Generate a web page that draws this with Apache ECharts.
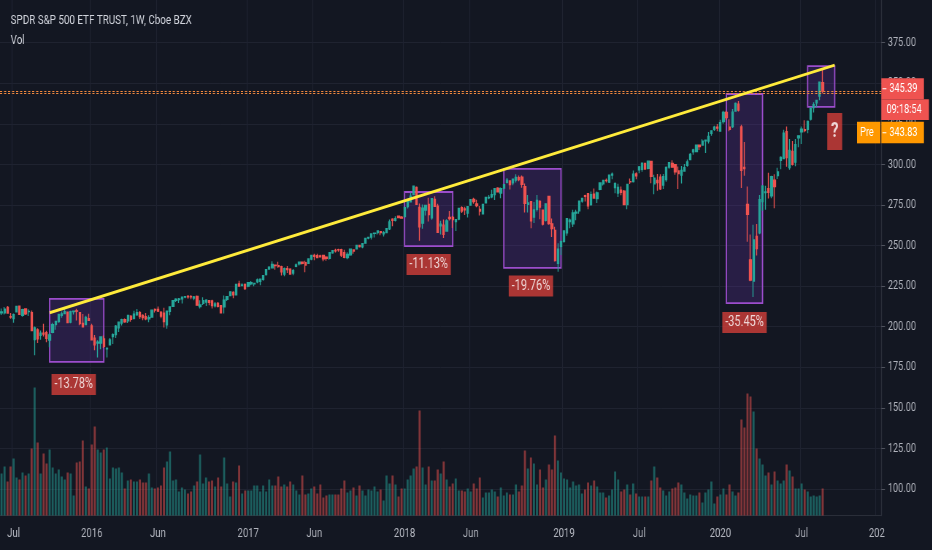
<!DOCTYPE html>
<html><head><meta charset="utf-8">
<script src="https://cdn.jsdelivr.net/npm/echarts@6/dist/echarts.min.js"></script>
<style>
html,body{margin:0;padding:0;background:#131722;width:932px;height:550px;overflow:hidden;}
#c{width:1277px;height:550px;transform:scaleX(0.73);transform-origin:0 0;}
</style>
</head><body><div id="c"></div><script>
const FONT = "Roboto, 'Noto Sans', sans-serif";

// weekly bars starting the week of 2015-06-08; axis runs 293 weeks
const firstWeek = '2015-06-08';
const axisWeeks = 293;

// [open, close, low, high]
const candles = [
[208.5,209.1,207.3,211.2],[208.5,210.8,207.6,212.1],[211.9,208.4,208.3,212.7],[206.2,206.0,204.9,208.5],[205.1,207.4,202.5,208.2],
[209.2,212.5,208.9,213.0],[212.7,207.6,207.4,212.8],[207.0,210.5,206.2,211.0],[210.9,207.9,207.3,211.2],[209.3,209.4,206.6,210.7],
[208.7,197.6,197.5,210.0],[192.1,199.3,182.4,200.2],[198.1,192.6,189.9,199.1],[194.7,196.0,192.0,197.6],[196.0,195.5,194.0,201.9],
[196.4,192.9,190.5,197.5],[191.8,195.0,187.3,196.0],[196.5,201.3,196.0,202.4],[201.4,203.3,198.2,203.5],[203.2,207.5,202.4,207.6],
[207.1,207.9,205.5,209.4],[208.1,209.3,207.8,211.0],[209.0,202.5,202.3,209.3],[202.8,209.3,202.2,209.9],[209.4,209.6,207.6,209.9],
[209.8,209.6,203.9,211.0],[208.7,201.9,200.9,209.0],[202.1,200.0,199.9,207.8],[201.4,205.7,201.0,206.7],[204.9,203.9,203.8,208.0],
[200.5,192.0,191.6,201.9],[193.0,188.8,185.5,194.9],[189.9,190.5,181.0,191.6],[189.9,193.7,186.1,194.0],[192.5,188.0,186.9,194.6],
[186.4,186.6,181.1,187.4],[188.8,191.9,188.4,193.0],[193.9,195.1,189.3,196.0],[195.1,200.4,193.0,201.1],[199.4,202.8,196.7,202.9],
[202.3,204.4,200.7,204.9],[204.3,203.1,202.5,205.0],[203.6,206.9,202.3,207.0],[206.5,204.5,203.1,207.0],[205.2,207.8,204.4,209.8],
[207.3,208.6,206.7,210.9],[208.6,206.3,204.8,209.7],[206.9,205.7,204.0,207.7],[206.2,204.8,204.0,208.5],[204.9,205.5,202.8,207.0],
[206.0,210.2,205.9,210.3],[210.6,210.3,208.7,211.3],[210.7,209.7,209.1,212.5],[209.0,206.5,205.2,209.5],[208.4,203.2,199.5,211.7],
[201.2,209.5,198.7,209.8],[209.5,212.2,207.1,212.5],[212.6,216.0,212.4,216.3],[216.2,217.0,215.2,217.5],[216.8,217.1,214.6,217.7],
[217.2,218.2,214.3,218.3],[218.3,218.5,217.5,219.0],[218.6,218.5,217.3,219.5],[218.5,218.4,216.9,219.6],[217.6,218.4,216.3,218.9],
[218.7,213.3,213.2,219.2],[212.4,213.4,211.2,216.3],[214.4,216.0,213.4,218.2],[215.2,216.3,212.8,217.0],[216.1,215.0,213.2,216.5],
[215.9,213.1,211.2,216.6],[212.9,214.0,211.9,215.2],[214.3,212.5,211.9,215.3],[213.0,208.6,208.4,213.1],[212.3,216.4,208.1,219.3],
[216.9,218.5,215.8,218.6],[219.2,221.5,219.1,221.6],[221.2,219.7,217.5,221.8],[219.7,226.0,219.5,226.1],[226.4,225.0,224.7,228.3],
[225.3,225.7,224.9,226.8],[226.0,223.5,222.7,226.7],[225.0,227.2,224.3,227.4],[226.5,227.1,225.6,228.1],[226.4,226.7,225.0,227.1],
[227.6,228.9,226.8,229.7],[228.0,229.3,225.5,229.4],[229.2,231.5,228.3,231.9],[232.1,235.1,231.6,235.2],[235.5,236.7,235.1,237.3],
[236.3,238.4,235.8,240.3],[237.9,237.7,235.1,238.4],[237.6,237.0,236.3,240.0],[237.0,233.9,231.6,237.6],[232.4,235.7,231.1,236.5],
[235.8,235.2,233.1,237.4],[235.4,232.5,232.4,236.0],[233.1,234.6,231.7,235.5],[237.2,238.1,236.7,239.0],[238.7,239.7,237.8,239.8],
[239.8,239.0,238.4,240.2],[239.5,238.0,233.6,240.7],[239.0,241.7,238.8,241.9],[241.7,243.9,240.9,244.4],[243.9,243.4,240.9,245.0],
[243.7,242.6,242.2,245.0],[243.6,243.1,242.6,244.4],[243.9,241.8,240.3,244.4],[242.9,242.1,240.7,243.4],[242.1,245.6,241.2,246.1],
[245.6,246.9,245.0,247.0],[247.0,246.8,245.8,248.0],[247.5,247.4,246.2,248.0],[247.5,244.1,242.9,248.0],[245.6,242.7,242.2,247.4],
[242.6,244.6,241.5,245.9],[244.3,247.8,243.7,247.9],[247.3,246.6,244.9,247.5],[248.0,250.1,247.9,250.3],[250.1,249.4,248.8,250.4],
[249.3,251.2,248.3,251.3],[251.5,254.4,251.3,254.7],[254.6,255.0,253.9,255.3],[255.2,257.1,253.7,257.3],[257.5,257.7,255.0,257.9],
[258.0,259.0,256.9,259.4],[258.6,258.0,256.4,259.0],[257.3,257.9,255.6,259.0],[258.0,260.4,257.9,260.5],[260.4,264.5,259.6,266.1],
[266.3,265.5,261.9,266.8],[265.6,266.5,264.9,268.0],[268.1,267.2,267.0,268.6],[267.5,266.9,266.6,268.2],[267.8,273.4,267.4,274.0],
[274.0,278.0,272.9,278.1],[277.0,280.4,276.6,282.6],[281.4,286.6,281.0,286.7],[285.9,275.4,275.3,286.4],[273.5,261.5,252.9,275.9],
[263.8,273.1,260.3,275.3],[271.9,274.7,268.6,275.2],[275.4,269.1,264.8,279.5],[267.1,278.9,265.9,279.0],[278.4,274.2,274.1,280.4],
[274.2,258.1,257.8,275.7],[262.1,263.2,256.9,265.3],[262.6,257.0,254.7,266.0],[259.0,265.2,258.7,266.2],[267.3,266.6,265.4,271.3],
[267.3,266.0,260.9,268.3],[264.8,266.0,259.0,266.4],[266.4,272.9,265.6,273.0],[273.3,271.3,270.0,274.2],[272.6,272.1,268.9,274.0],
[270.0,274.0,267.3,274.1],[274.9,278.2,274.5,278.6],[278.5,277.1,275.8,279.5],[275.6,274.7,273.6,278.3],[272.2,271.3,268.5,274.4],
[269.5,275.4,269.3,275.5],[276.3,279.6,276.1,280.0],[279.4,279.7,278.6,281.2],[280.1,281.4,279.2,284.4],[281.5,285.0,278.1,285.1],
[285.4,283.2,282.9,286.0],[282.4,285.1,279.2,285.8],[285.5,287.5,284.8,287.7],[289.0,290.3,288.2,291.7],[289.8,287.6,284.5,290.0],
[288.7,290.9,287.2,291.3],[290.3,292.0,288.9,293.9],[291.9,290.7,289.6,293.2],[292.1,287.8,285.6,293.2],[286.3,276.0,270.4,288.3],
[275.5,276.3,270.4,281.2],[277.0,265.3,260.6,277.4],[267.5,271.9,263.9,276.9],[272.4,277.8,271.0,281.2],[277.2,273.7,266.2,278.0],
[271.8,263.2,262.3,272.0],[265.5,275.7,264.9,275.8],[280.3,263.6,262.9,280.4],[263.4,260.5,255.3,266.7],[259.4,240.7,240.2,261.6],
[239.0,247.8,233.8,251.4],[249.6,252.4,244.2,253.1],[252.7,259.0,251.7,259.2],[257.8,266.5,256.1,266.7],[264.8,265.7,260.7,266.7],
[263.4,270.1,261.5,272.0],[270.1,270.5,265.6,272.0],[271.4,277.4,269.6,277.5],[277.5,279.1,276.4,279.4],[280.7,280.4,277.1,281.3],
[282.0,274.5,272.4,282.4],[275.2,281.3,274.6,283.3],[281.6,279.3,279.2,285.1],[278.9,282.5,276.2,283.3],[284.7,288.6,284.1,289.0],
[288.1,290.2,287.0,290.5],[290.2,290.0,288.8,291.4],[289.2,293.4,288.6,293.5],[293.5,294.0,290.9,295.0],[285.8,288.1,282.3,289.0],
[282.4,285.8,279.9,288.1],[284.1,282.8,281.0,286.4],[283.5,275.3,275.2,284.2],[275.3,287.6,272.4,287.9],[289.4,289.3,287.9,291.4],
[289.5,294.0,288.8,296.3],[294.2,293.0,290.9,295.2],[296.7,298.5,294.6,299.0],[297.0,300.7,295.5,301.1],[300.6,297.2,296.7,301.1],
[297.6,302.0,296.9,302.2],[301.9,292.6,288.4,302.2],[288.1,291.6,281.7,293.6],[290.2,288.9,283.8,294.1],[292.2,284.9,284.3,294.0],
[287.3,292.5,284.8,294.1],[290.6,298.1,289.3,298.8],[298.4,301.1,297.4,301.2],[300.6,298.3,298.2,302.6],[299.8,295.4,293.6,299.9],
[296.0,294.4,284.8,298.7],[293.5,296.3,288.2,299.0],[295.9,298.0,295.6,300.2],[299.4,301.6,298.6,303.0],[303.0,306.1,302.5,307.0],
[307.8,309.0,306.0,309.7],[308.0,311.8,307.8,312.0],[311.9,311.0,308.9,312.0],[312.0,314.3,311.8,315.5],[314.6,314.9,307.1,315.3],
[314.4,317.3,312.9,320.0],[319.1,320.7,317.6,320.9],[321.6,322.9,320.6,323.8],[322.9,322.4,320.4,324.9],[320.5,325.7,320.4,327.5],
[326.4,332.0,325.1,333.0],[332.0,328.8,327.4,333.0],[323.0,321.7,320.5,327.9],[323.4,332.2,322.5,334.2],[332.9,337.6,332.9,338.1],
[337.1,333.5,332.6,339.1],[323.1,296.3,285.5,324.4],[298.2,297.5,293.1,313.8],[275.3,269.3,252.4,286.4],[241.2,228.8,228.0,256.9],
[228.2,253.4,218.3,262.8],[255.7,248.2,243.9,263.3],[257.8,278.2,257.0,281.2],[277.1,286.6,271.4,287.3],[282.6,283.0,272.0,286.8],
[285.1,282.8,279.0,294.9],[280.7,292.4,279.1,293.0],[290.3,286.3,273.0,294.0],[293.1,295.4,291.0,297.9],[302.5,304.3,297.1,305.0],
[303.6,319.3,303.2,321.3],[320.2,304.2,298.6,323.4],[298.0,308.6,296.7,315.6],[308.0,300.1,299.4,314.5],[301.4,312.2,298.9,315.7],
[316.4,317.6,310.6,318.0],[320.1,321.7,312.6,323.4],[321.4,320.9,319.8,327.2],[321.6,326.5,319.2,327.0],[327.9,334.6,327.0,334.9],
[335.1,336.8,332.0,338.3],[337.9,339.5,335.2,339.7],[342.1,350.6,339.5,350.7],[350.35,345.39,343.8,358.75]
];

// weekly volume, millions of shares
const volumes = [
420,490,340,490,570,380,360,430,400,420, 670,1280,730,420,620,520,660,480,420,460,
390,360,430,420,200,530,540,750,290,270, 710,890,660,630,660,680,370,480,470,480,
430,270,350,360,340,340,360,330,330,420, 280,270,280,300,480,540,640,350,360,240,
280,260,220,240,300,340,610,320,380,340, 350,290,380,290,580,320,190,340,330,500,
220,250,250,250,300,300,240,300,240,360, 300,300,390,290,310,290,340,310,250,210,
400,210,220,270,290,220,310,180,200,210, 210,210,210,270,350,230,250,280,200,300,
250,200,260,250,290,240,260,150,400,320, 400,310,190,270,270,360,400,470,490,1050,
480,310,490,350,350,460,420,540,360,290, 320,370,250,250,240,270,240,320,270,380,
180,230,230,260,240,190,280,200,230,210, 210,310,240,300,650,470,580,520,310,460,
280,360,510,460,800,550,430,370,360,280, 340,300,310,220,260,330,300,350,290,230,
230,180,200,260,440,360,240,260,310,210, 320,220,190,190,190,190,350,490,380,280,
250,200,240,270,280,330,310,230,170,210, 200,200,230,130,230,260,340,120,190,210,
270,210,310,240,200,230,960,880,1220,1190, 1040,670,570,510,400,430,310,440,350,320,
350,510,450,390,270,270,320,260,240,190, 200,190,200,270
];

// bottom time-axis ticks (week starting date -> text)
const tickDates = ['2015-07-06','2016-01-04','2016-06-06','2017-01-02','2017-06-05','2018-01-01','2018-06-04','2019-01-07','2019-07-01','2020-01-06','2020-07-13','2021-01-04'];
const tickTexts = ['Jul','2016','Jun','2017','Jun','2018','Jun','2019','Jul','2020','Jul','202'];

// drawdown rectangles
const boxFrom   = ['2015-09-28','2018-01-01','2018-08-20','2020-01-20','2020-07-27'];
const boxTo     = ['2016-02-01','2018-04-23','2018-12-31','2020-04-13','2020-09-28'];
const boxTop    = [217.1, 283.0, 297.2, 343.4, 360.6];
const boxBottom = [178.3, 249.7, 236.2, 214.6, 335.4];

// drawdown labels
const noteDates  = ['2015-11-23','2018-02-26','2018-10-22','2020-03-02','2020-09-28'];
const notePrices = [164.4, 238.3, 225.1, 202.6, 320.3];
const noteTexts  = ['-13.78%','-11.13%','-19.76%','-35.45%','?'];

// trend line
const trendStart = ['2015-09-28', 208.6];
const trendEnd   = ['2020-09-28', 361.2];

const lastPrice = 345.39;
const prePrice = 343.83;
const countdown = '09:18:54';

// ---------------------------------------------------------------
const cats = [];
const t0 = Date.parse(firstWeek + 'T00:00:00Z');
for (let i = 0; i < axisWeeks; i++) cats.push(new Date(t0 + i * 7 * 86400000).toISOString().slice(0, 10));

const UP = '#26a69a', DOWN = '#ef5350';
const AXT = '#b2b5be', GRIDC = '#1f2330', BORDER = '#2a2e39';
const W = 1277;          // drawing width (page squeezes it horizontally to 932)
const GR = 69.7;         // right gutter for the price scale
const VW = 1.37;         // vertical stroke compensation

const chart = echarts.init(document.getElementById('c'), null, {renderer: 'canvas', width: W, height: 550});

const option = {
  backgroundColor: '#131722',
  animation: false,
  textStyle: {fontFamily: FONT},
  title: {
    text: 'SPDR S&P 500 ETF TRUST, 1W, Cboe BZX',
    subtext: 'Vol',
    left: 9.6, top: 9, itemGap: 6,
    textStyle: {color: '#d1d4dc', fontSize: 13.5, fontWeight: 'normal', fontFamily: FONT},
    subtextStyle: {color: '#d1d4dc', fontSize: 13.5, fontFamily: FONT}
  },
  grid: [
    {left: 0, right: GR, top: 2.13, bottom: 20.4, outerBoundsMode: 'none'},
    {left: 0, right: GR, top: 0, bottom: 34.5, outerBoundsMode: 'none'}
  ],
  xAxis: [
    {type: 'category', gridIndex: 0, data: cats, boundaryGap: true, show: false},
    {type: 'category', gridIndex: 1, data: cats, boundaryGap: true,
     axisLine: {show: true, lineStyle: {color: BORDER}},
     axisTick: {show: false},
     axisLabel: {
       color: AXT, fontSize: 13, margin: 12, fontFamily: FONT,
       interval: (i, v) => tickDates.indexOf(v) >= 0,
       formatter: v => { const k = tickDates.indexOf(v); return k >= 0 ? tickTexts[k] : ''; }
     },
     splitLine: {show: true, interval: (i, v) => tickDates.indexOf(v) >= 0, lineStyle: {color: GRIDC, width: VW}}
    }
  ],
  yAxis: [
    {type: 'value', gridIndex: 0, position: 'right', min: 75, max: 400, interval: 25,
     axisLine: {show: false},
     axisTick: {show: true, length: 5, lineStyle: {color: '#50535e'}},
     axisLabel: {color: AXT, fontSize: 12.5, margin: 9, fontFamily: FONT, showMinLabel: false, showMaxLabel: false,
                 formatter: v => v.toFixed(2)},
     splitLine: {show: true, showMinLine: false, showMaxLine: false, lineStyle: {color: GRIDC, width: 1}}
    },
    {type: 'value', gridIndex: 1, position: 'right', min: 0, max: 5155,
     axisLine: {show: true, lineStyle: {color: BORDER, width: VW}},
     axisTick: {show: false}, axisLabel: {show: false}, splitLine: {show: false}
    }
  ],
  series: [
    {
      name: 'Vol', type: 'bar', xAxisIndex: 1, yAxisIndex: 1, barWidth: '70%', z: 1,
      data: volumes.map((v, i) => ({
        value: v,
        itemStyle: {color: candles[i][1] >= candles[i][0] ? 'rgba(38,166,154,0.5)' : 'rgba(239,83,80,0.5)'}
      }))
    },
    {
      name: 'SPY', type: 'candlestick', xAxisIndex: 0, yAxisIndex: 0, barWidth: '66%', z: 3,
      itemStyle: {color: UP, color0: DOWN, borderColor: UP, borderColor0: DOWN, borderWidth: VW},
      data: candles,
      markArea: {
        silent: true,
        itemStyle: {color: 'rgba(110,55,185,0.24)', borderColor: '#9c4dcc', borderWidth: 1.8},
        data: boxFrom.map((d, i) => [{xAxis: d, yAxis: boxTop[i]}, {xAxis: boxTo[i], yAxis: boxBottom[i]}])
      },
      markLine: {
        silent: true, symbol: 'none', label: {show: false},
        lineStyle: {color: '#f0883e', type: [3, 2.5], width: 1.2, opacity: 1},
        data: [
          {yAxis: prePrice},
          {yAxis: lastPrice},
          [{coord: trendStart, lineStyle: {color: '#ffeb3b', width: 3, type: 'solid'}}, {coord: trendEnd}]
        ]
      }
    },
    {
      name: 'notes', type: 'scatter', xAxisIndex: 0, yAxisIndex: 0, symbolSize: 0, z: 5, silent: true,
      data: noteDates.map((d, i) => {
        const q = noteTexts[i] === '?';
        return {
          value: [d, notePrices[i]],
          label: {
            show: true, position: 'inside', formatter: noteTexts[i],
            color: '#ffffff', fontFamily: FONT,
            fontSize: q ? 21 : 15, fontWeight: q ? 'bold' : 'normal',
            backgroundColor: '#d23f39',
            padding: q ? [8, 5, 8, 5] : [3, 4, 3, 4]
          }
        };
      })
    }
  ]
};
chart.setOption(option);

// right-side price tags positioned through the price scale
const yL = chart.convertToPixel({yAxisIndex: 0}, lastPrice);
const xr = W - GR;
const tf = `12.5px ${FONT}`;
chart.setOption({
  graphic: [
    {type: 'rect', z: 100, shape: {x: xr, y: yL - 12.5, width: 58.4, height: 21}, style: {fill: DOWN}},
    {type: 'line', z: 101, shape: {x1: xr + 1.5, y1: yL - 2, x2: xr + 7, y2: yL - 2}, style: {stroke: '#fff', lineWidth: 1}},
    {type: 'text', z: 101, x: xr + 11, y: yL - 2, style: {text: lastPrice.toFixed(2), fill: '#fff', font: tf, verticalAlign: 'middle'}},
    {type: 'rect', z: 100, shape: {x: xr, y: yL + 8.5, width: 65.2, height: 20.7}, style: {fill: DOWN}},
    {type: 'text', z: 101, x: xr + 7, y: yL + 19, style: {text: countdown, fill: '#fff', font: tf, verticalAlign: 'middle'}},
    {type: 'rect', z: 100, shape: {x: xr - 33.3, y: yL + 31, width: 32, height: 21.6}, style: {fill: '#ff9800'}},
    {type: 'text', z: 101, x: xr - 29, y: yL + 42, style: {text: 'Pre', fill: '#fff', font: tf, verticalAlign: 'middle'}},
    {type: 'rect', z: 100, shape: {x: xr, y: yL + 31, width: 58.4, height: 21.6}, style: {fill: '#ff9800'}},
    {type: 'line', z: 101, shape: {x1: xr + 1.5, y1: yL + 42, x2: xr + 7, y2: yL + 42}, style: {stroke: '#fff', lineWidth: 1}},
    {type: 'text', z: 101, x: xr + 11, y: yL + 42, style: {text: prePrice.toFixed(2), fill: '#fff', font: tf, verticalAlign: 'middle'}}
  ]
});
</script></body></html>
